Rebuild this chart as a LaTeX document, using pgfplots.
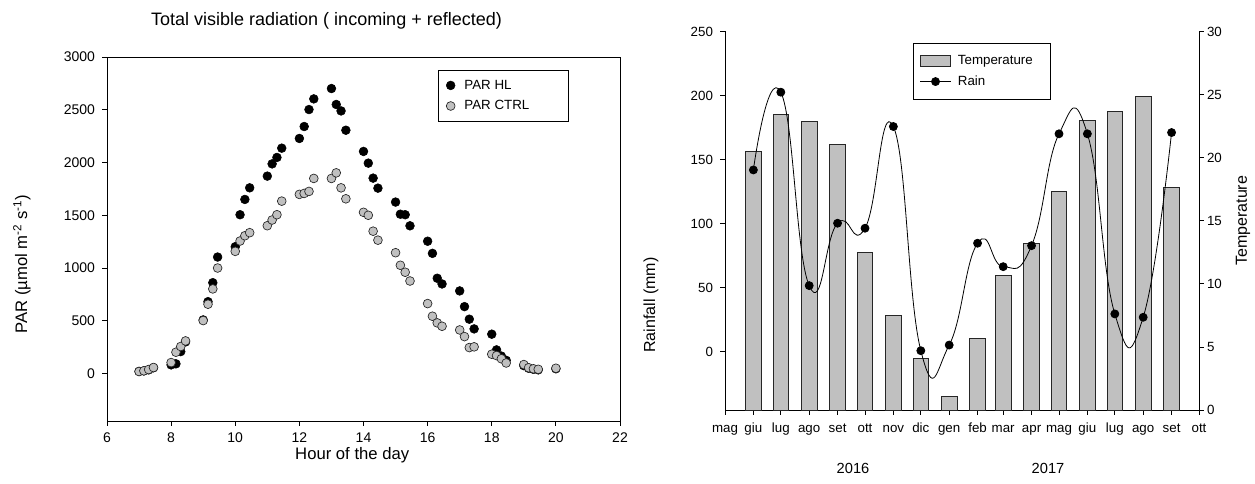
\documentclass[border=0pt]{standalone}
\usepackage{fontspec}
\setmainfont{Liberation Sans}
\usepackage{pgfplots}
\usepackage{pgfplotstable}
\pgfplotsset{compat=1.18}
\definecolor{silv}{RGB}{192,192,192}

\pgfplotstableread{
x y
7.00 20
7.15 25
7.30 35
7.45 55
8.00 82
8.15 92
8.30 208
8.45 300
9.00 508
9.15 681
9.30 861
9.45 1104
10.00 1202
10.15 1505
10.30 1650
10.45 1760
11.00 1871
11.15 1987
11.30 2048
11.45 2136
12.00 2228
12.15 2341
12.30 2502
12.45 2603
13.00 2701
13.15 2550
13.30 2489
13.45 2306
14.00 2105
14.15 1994
14.30 1852
14.45 1757
15.00 1625
15.15 1510
15.30 1505
15.45 1400
16.00 1254
16.15 1139
16.30 903
16.45 849
17.00 783
17.15 634
17.30 515
17.45 423
18.00 373
18.15 224
18.30 165
18.45 125
19.00 75
19.15 50
19.30 40
19.45 35
20.00 45
}\hltable

\pgfplotstableread{
x y
7.00 19
7.15 26
7.30 38
7.45 57
8.00 104
8.15 202
8.30 256
8.45 309
9.00 502
9.15 657
9.30 802
9.45 1000
10.00 1158
10.15 1256
10.30 1306
10.45 1335
11.00 1401
11.15 1455
11.30 1505
11.45 1634
12.00 1698
12.15 1707
12.30 1726
12.45 1849
13.00 1849
13.15 1902
13.30 1760
13.45 1656
14.00 1528
14.15 1500
14.30 1349
14.45 1264
15.00 1145
15.15 1026
15.30 960
15.45 877
16.00 663
16.15 543
16.30 480
16.45 448
17.00 413
17.15 350
17.30 246
17.45 253
18.00 183
18.15 170
18.30 140
18.45 100
19.00 85
19.15 55
19.30 45
19.45 40
20.00 50
}\ctrltable

\pgfplotstableread{
d t
31 20.5
61 23.45
92 22.87
123 21.03
153 12.51
184 7.51
214 4.06
245 1.05
276 5.64
304 10.67
335 13.23
365 17.34
396 22.98
426 23.66
457 24.85
488 17.63
}\temptable

\pgfplotstableread{
d r
31 141.9
61 202.6
92 51.6
123 100.3
153 96.4
184 175.8
214 0.8
245 5.2
276 84.7
304 66.4
335 82.8
365 170.1
396 170.1
426 29.5
457 26.9
488 171.1
}\raintable

\begin{document}
\begin{tikzpicture}
\pgfplotsset{
  common/.style={
    scale only axis,
    tick align=outside,
    major tick length=3.5pt,
    every tick/.style={black, line width=0.6pt},
    axis line style={line width=0.7pt, black, -},
    scaled ticks=false,
    /pgf/number format/1000 sep={},
    /pgf/number format/assume math mode=true,
  }
}
% ---------------- left chart ----------------
\begin{axis}[common,
  at={(80.25pt,46.5pt)}, anchor=south west,
  width=384.75pt, height=273pt,
  xmin=6, xmax=22, ymin=-450, ymax=3000,
  xtick={6,8,...,22}, ytick={0,500,...,3000},
  tick pos=left,
  tick label style={font=\fontsize{10.5}{12}\selectfont},
  xticklabel style={yshift=-2pt},
  yticklabel style={xshift=-2pt},
  xlabel={Hour of the day},
  every axis x label/.style={font=\fontsize{12.5}{14}\selectfont, at={(rel axis cs:0.478,0)}, anchor=center, yshift=-25.5pt},
  ylabel={PAR (\textmu mol m\textsuperscript{-2} s\textsuperscript{-1})},
  every axis y label/.style={font=\fontsize{12.5}{14}\selectfont, at={(rel axis cs:0,0.431)}, anchor=center, xshift=-63.75pt, rotate=90},
  legend style={at={(rel axis cs:0.645,0.964)}, anchor=north west, draw=black, line width=0.6pt,
    font=\fontsize{10}{12}\selectfont, inner xsep=6pt, inner ysep=5pt, row sep=3pt,
    /tikz/every odd column/.append style={column sep=5pt}},
  legend cell align=left,
]
\addplot[only marks, mark=*, mark size=3.3pt, mark options={fill=black, draw=black, line width=0.4pt}] table[x=x,y=y] {\hltable};
\addplot[only marks, mark=*, mark size=3.3pt, mark options={fill=silv, draw=black!85, line width=0.5pt}] table[x=x,y=y] {\ctrltable};
\legend{\makebox[70pt][l]{PAR HL}, \makebox[70pt][l]{PAR CTRL}}
\end{axis}
\node[font=\fontsize{13.5}{16}\selectfont] at (244.9pt,346.5pt) {Total visible radiation ( incoming + reflected)};

% ---------------- right chart: temperature bars ----------------
\begin{axis}[common,
  at={(543.75pt,54.75pt)}, anchor=south west,
  width=355.5pt, height=283.9pt,
  xmin=0, xmax=518, ymin=0, ymax=30,
  axis x line*=bottom, axis y line*=right,
  xtick={0,31,61,92,123,153,184,214,245,276,304,335,365,396,426,457,488,518},
  xticklabels={mag,giu,lug,ago,set,ott,nov,dic,gen,feb,mar,apr,mag,giu,lug,ago,set,ott},
  ytick={0,5,...,30},
  tick label style={font=\fontsize{10}{12}\selectfont},
  xticklabel style={anchor=north, text height=7.2pt, text depth=2pt, yshift=-2.5pt},
  yticklabel style={xshift=-1pt},
  ylabel={Temperature},
  every axis y label/.style={at={(rel axis cs:1,0.5)}, anchor=center, xshift=33pt, rotate=90, font=\fontsize{12}{14}\selectfont},
]
\addplot[ybar, bar width=11.6pt, fill=silv, draw=black!85, line width=0.6pt] table[x=d,y=t] {\temptable};
\end{axis}

% ---------------- right chart: rain ----------------
\begin{axis}[common,
  at={(543.75pt,54.75pt)}, anchor=south west,
  width=355.5pt, height=283.9pt,
  xmin=0, xmax=518, ymin=-45.5, ymax=250,
  axis x line=none, axis y line*=left,
  ytick={0,50,...,250},
  tick label style={font=\fontsize{10}{12}\selectfont},
  yticklabel style={xshift=-2pt},
  ylabel={Rainfall (mm)},
  every axis y label/.style={at={(rel axis cs:0,0.277)}, anchor=center, xshift=-55.5pt, rotate=90, font=\fontsize{12}{14}\selectfont},
  legend style={at={(rel axis cs:0.396,0.970)}, anchor=north west, draw=black, line width=0.6pt,
    font=\fontsize{10}{12}\selectfont, inner xsep=5pt, inner ysep=7pt, row sep=3pt,
    /tikz/every odd column/.append style={column sep=3pt}},
  legend cell align=left,
]
\addlegendimage{legend image code/.code={\draw[fill=silv, draw=black!85, line width=0.6pt] (0pt,-4pt) rectangle (23pt,4pt);}}
\addplot[black, line width=0.6pt, smooth, tension=0.85, mark=*, mark size=3pt, mark options={fill=black, draw=black},
  legend image code/.code={\draw[black, line width=0.6pt] (0pt,0pt) -- (23pt,0pt); \fill[black] (11.5pt,0pt) circle (3pt);}] table[x=d,y=r] {\raintable};
\legend{\makebox[62pt][l]{Temperature}, Rain}
\end{axis}
\node[font=\fontsize{11}{13}\selectfont] at (639.75pt,11.25pt) {2016};
\node[font=\fontsize{11}{13}\selectfont] at (786pt,11.25pt) {2017};

\pgfresetboundingbox
\path[use as bounding box] (0,0) rectangle (941.25pt,362.25pt);
\end{tikzpicture}
\end{document}
